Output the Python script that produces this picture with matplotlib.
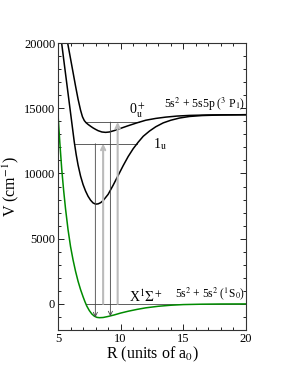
import matplotlib
matplotlib.use('Agg')
from matplotlib import pyplot as plt
from matplotlib.ticker import MultipleLocator

# potential curves (R in a0, V in cm^-1)
r_x = [5.0, 5.15, 5.3, 5.45, 5.6, 5.8, 6.0, 6.2, 6.4, 6.6, 6.8, 7.0, 7.15, 7.3,
       7.5, 7.7, 7.9, 8.1, 8.3, 8.6, 9.0, 9.5, 10.0, 10.6, 11.3, 12.0, 13.0,
       14.0, 15.0, 16.5, 18.0, 20.0]
v_x = [14525, 12300, 10300, 8700, 7300, 5700, 4400, 3380, 2500, 1740, 1100, 550,
       170, -170, -510, -770, -940, -1030, -1055, -1040, -960, -840, -700, -560,
       -420, -300, -180, -100, -50, -20, -5, 0]

r_1u = [5.29, 5.5, 5.7, 5.9, 6.1, 6.3, 6.45, 6.6, 6.8, 7.0, 7.2, 7.4, 7.6, 7.8,
        8.0, 8.2, 8.4, 8.6, 9.0, 9.4, 9.8, 10.2, 10.6, 11.0, 11.4, 11.8, 12.3,
        12.8, 13.4, 14.0, 14.7, 15.5, 16.5, 18.0, 20.0]
v_1u = [20000, 18400, 16900, 15400, 13900, 12400, 11450, 10650, 9800, 9150, 8650,
        8250, 7950, 7740, 7650, 7670, 7760, 7920, 8400, 9100, 9850, 10600, 11300,
        11900, 12400, 12850, 13250, 13580, 13880, 14080, 14250, 14370, 14440,
        14485, 14504]

r_0u = [5.77, 6.0, 6.2, 6.4, 6.6, 6.8, 6.95, 7.1, 7.25, 7.4, 7.6, 7.8, 8.0, 8.2,
        8.5, 8.8, 9.1, 9.5, 10.0, 10.6, 11.3, 12.0, 12.8, 13.6, 14.5, 15.5, 17.0,
        20.0]
v_0u = [20000, 18800, 17750, 16700, 15700, 14850, 14350, 14050, 13880, 13760,
        13620, 13490, 13380, 13280, 13180, 13150, 13180, 13290, 13460, 13660,
        13880, 14080, 14220, 14320, 14400, 14450, 14485, 14504]

# level lines (energy, left turning point, right end)
levels = [(13940, 7.2, 11.45), (12280, 6.32, 11.3), (0, 7.22, 20.0)]

# transitions: gray = up from ground line, black = down to ground curve
up_r = [8.6, 9.76]
up_top = [12280, 13940]
down_r = [7.98, 9.18]
down_top = [12280, 13940]
down_bot = [-1030, -950]

plt.rcParams['mathtext.fontset'] = 'stix'
serif = 'Liberation Serif'

fig = plt.figure(figsize=(2.89, 3.74), dpi=100)
ax = fig.add_axes([0.2007, 0.1176, 0.6505, 0.7674])

for e, r0, r1 in levels:
    ax.plot([r0, r1], [e, e], color='#444444', lw=0.6)

for r, top in zip(up_r, up_top):
    ax.annotate('', xy=(r, top), xytext=(r, 0),
                arrowprops=dict(arrowstyle='->,head_length=0.3,head_width=0.15',
                                color='#bbbbbb', lw=1.5, shrinkA=0, shrinkB=0))
for r, top, bot in zip(down_r, down_top, down_bot):
    ax.annotate('', xy=(r, bot), xytext=(r, top),
                arrowprops=dict(arrowstyle='->,head_length=0.3,head_width=0.15',
                                color='#444444', lw=0.6, shrinkA=0, shrinkB=0))

ax.plot(r_1u, v_1u, color='black', lw=1.1)
ax.plot(r_0u, v_0u, color='black', lw=1.1)
ax.plot(r_x, v_x, color='#008b00', lw=1.1)

ax.text(10.7, 14800, r'0$^+_{\rm u}$', family=serif, fontsize=10, va='center')
ax.text(19.9, 15300, r'5s$^2$ + 5s5p ($^3$ P$_1$)', family=serif, fontsize=8.5,
        ha='right', va='center')
ax.text(12.6, 12250, r'1$_{\rm u}$', family=serif, fontsize=10, va='center')
ax.text(10.7, 560, r'X$^1\Sigma^+$', family=serif, fontsize=10, va='center')
ax.text(19.9, 820, r'5s$^2$ + 5s$^2$ ($^1$S$_0$)', family=serif, fontsize=8.3,
        ha='right', va='center')

ax.set_xlim(5, 20)
ax.set_ylim(-2000, 20000)
ax.xaxis.set_major_locator(MultipleLocator(5))
ax.xaxis.set_minor_locator(MultipleLocator(1))
ax.yaxis.set_major_locator(MultipleLocator(5000))
ax.yaxis.set_minor_locator(MultipleLocator(1000))
ax.tick_params(which='both', direction='in', top=True, right=True, width=0.6)
ax.tick_params(which='major', length=4, pad=2, labelsize=9)
ax.tick_params(which='minor', length=2)
for lab in ax.get_xticklabels() + ax.get_yticklabels():
    lab.set_family(serif)
for s in ax.spines.values():
    s.set_linewidth(0.8)
    s.set_color('#333333')

ax.set_xlabel(r'R (units of a$_0$)', family=serif, fontsize=11.5, labelpad=0)
ax.set_ylabel(r'V (cm$^{-1}$)', family=serif, fontsize=11.5, labelpad=2)

fig.savefig('out.png', dpi=100)
